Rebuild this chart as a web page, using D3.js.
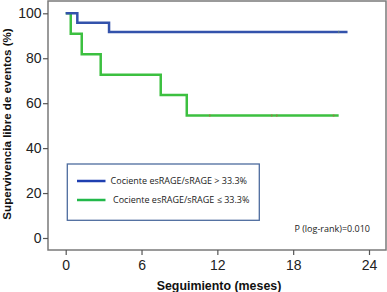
<!DOCTYPE html>
<html>
<head>
    <script src="https://d3js.org/d3.v7.min.js"></script>
    <style>
        body { margin: 0; background: #fff; }
        .axis text { font-family: "Liberation Sans", Arial, sans-serif; font-size: 14px; fill: #222; }
        .axis line { stroke: #555; stroke-width: 1.2; }
        .title { font-family: "Liberation Sans", Arial, sans-serif; font-weight: bold; fill: #111; }
        .leg { font-family: "Open Sans", sans-serif; font-size: 9px; fill: #222; }
    </style>
</head>
<body>
    <svg id="km" width="387" height="292"></svg>
    <script>
        // Kaplan-Meier steps: [time in months, survival %]
        const blueSteps = [[0, 100], [0.92, 95.8], [3.43, 91.7], [22.3, 91.7]];
        const greenSteps = [[0, 100], [0.4, 90.9], [1.27, 81.8], [2.77, 72.7], [7.52, 63.6], [9.58, 54.5], [21.6, 54.5]];
        const greenCensor = [11.4, 16.3, 16.7, 21.2];
        const blueCensor = [21.6];
        const xTicks = [0, 6, 12, 18, 24];
        const yTicks = [0, 20, 40, 60, 80, 100];
        const legendLabels = ["Cociente esRAGE/sRAGE > 33.3%", "Cociente esRAGE/sRAGE \u2264 33.3%"];
        const pText = "P (log-rank)=0.010";

        const svg = d3.select("#km");
        const frame = { left: 48, top: 1, right: 386, bottom: 250 };

        const x = d3.scaleLinear().domain([0, 24]).range([65.7, 369]);
        const y = d3.scaleLinear().domain([0, 100]).range([238, 13.3]);

        svg.append("rect")
            .attr("x", frame.left).attr("y", frame.top)
            .attr("width", frame.right - frame.left).attr("height", frame.bottom - frame.top)
            .attr("fill", "#fff").attr("stroke", "#7a7a7a").attr("stroke-width", 1.5);

        const yAxis = svg.append("g").attr("class", "axis")
            .attr("transform", `translate(${frame.left},0)`)
            .call(d3.axisLeft(y).tickValues(yTicks).tickSize(5).tickPadding(1.5));
        yAxis.select(".domain").remove();

        const xAxis = svg.append("g").attr("class", "axis")
            .attr("transform", `translate(0,${frame.bottom})`)
            .call(d3.axisBottom(x).tickValues(xTicks).tickSize(5).tickPadding(5));
        xAxis.select(".domain").remove();

        const line = d3.line().x(d => x(d[0])).y(d => y(d[1])).curve(d3.curveStepAfter);

        svg.append("path").datum(greenSteps)
            .attr("d", line).attr("fill", "none")
            .attr("stroke", "#3cc040").attr("stroke-width", 2.5);
        svg.append("path").datum(blueSteps)
            .attr("d", line).attr("fill", "none")
            .attr("stroke", "#3352ab").attr("stroke-width", 2.5);

        // tiny censor marks
        svg.selectAll(".cg").data(greenCensor).enter().append("line")
            .attr("x1", d => x(d)).attr("x2", d => x(d))
            .attr("y1", y(54.5) - 1.2).attr("y2", y(54.5) + 1.2)
            .attr("stroke", "#b06a40").attr("stroke-width", 1.5).attr("opacity", 0.6);
        svg.selectAll(".cb").data(blueCensor).enter().append("line")
            .attr("x1", d => x(d)).attr("x2", d => x(d))
            .attr("y1", y(91.7) - 1.2).attr("y2", y(91.7) + 1.2)
            .attr("stroke", "#6a8a70").attr("stroke-width", 1.5).attr("opacity", 0.6);

        // legend
        const legend = svg.append("g");
        legend.append("rect")
            .attr("x", 67.3).attr("y", 164).attr("width", 192).attr("height", 56.3)
            .attr("fill", "#fff").attr("stroke", "#4d6c9e").attr("stroke-width", 1.3);
        const legColors = ["#1f3fb0", "#22b84a"];
        const legY = [181, 200];
        const legX = [110.6, 113];
        legendLabels.forEach((t, i) => {
            legend.append("line")
                .attr("x1", 77).attr("x2", 105.5).attr("y1", legY[i]).attr("y2", legY[i])
                .attr("stroke", legColors[i]).attr("stroke-width", 2.5);
            legend.append("text").attr("class", "leg")
                .attr("x", legX[i]).attr("y", legY[i]).attr("dy", "0.35em")
                .text(t);
        });

        svg.append("text").attr("class", "leg")
            .attr("x", 370).attr("y", 232).attr("text-anchor", "end")
            .text(pText);

        svg.append("text").attr("class", "title")
            .attr("x", 219).attr("y", 290).attr("text-anchor", "middle")
            .style("font-size", "12.4px")
            .text("Seguimiento (meses)");

        svg.append("text").attr("class", "title")
            .attr("transform", "translate(10.5,124) rotate(-90)")
            .attr("text-anchor", "middle")
            .style("font-size", "11.6px")
            .text("Supervivencia libre de eventos (%)");
    </script>
</body>
</html>
